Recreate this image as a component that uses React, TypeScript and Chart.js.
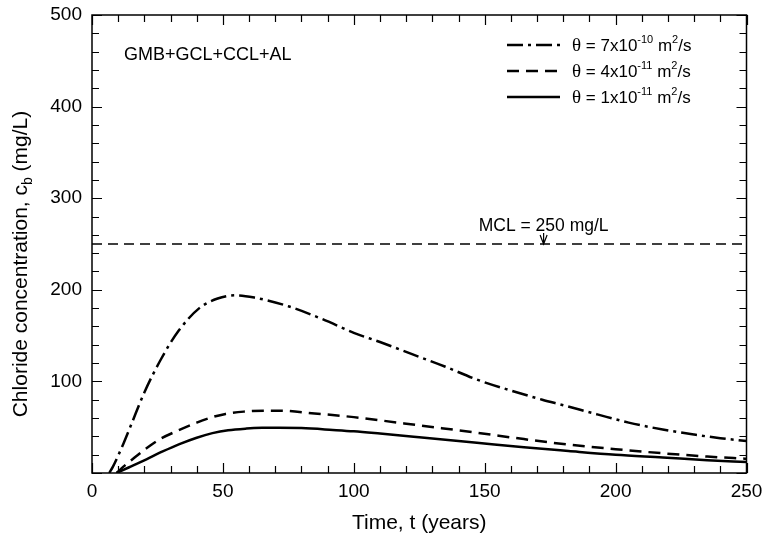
import React, { useEffect, useRef } from 'react';
import { Chart, registerables } from 'chart.js';

Chart.register(...registerables);

const SANS = '"Liberation Sans", Arial, Helvetica, sans-serif';
const SERIF = '"Liberation Serif", "Times New Roman", serif';

// Axis tick labels
const X_TICKS = [0, 50, 100, 150, 200, 250];
const Y_TICKS = [100, 200, 300, 400, 500];

// theta = 7x10^-10 m2/s (dash-dot)
const timeA = [6.6, 8, 10, 12, 15, 20, 26.5, 33, 41, 48, 55, 62, 75, 88, 100, 110, 122, 135, 147, 160, 172, 180, 193, 205, 218, 230, 240, 250];
const concA = [0, 7, 19, 32, 53, 88, 125, 155, 180, 190.5, 194, 191.5, 182, 168, 153, 143, 130, 116, 102, 90, 80, 74, 64, 55, 47.5, 42, 38, 35];

// theta = 4x10^-11 m2/s (dashed)
const timeB = [9.4, 12, 15, 20.8, 26, 33.4, 40, 46, 51, 58, 66, 72, 85, 100, 110, 125, 147, 165, 182, 200, 218, 235, 250];
const concB = [0, 7, 14, 27, 37, 47, 55, 61, 64.5, 67, 68, 68, 65, 61, 57.5, 52, 44, 37, 31, 26, 21.5, 18, 15.5];

// theta = 1x10^-11 m2/s (solid)
const timeC = [9.4, 14, 20.8, 27, 33.4, 40, 46, 52, 59, 65, 71.4, 80, 92, 100, 110, 125, 147, 165, 182, 200, 218, 235, 250];
const concC = [0, 6, 15, 23.5, 31.5, 38.5, 43.5, 46.7, 48.5, 49.3, 49.5, 49, 47, 45.5, 43, 39, 33, 28, 24, 20, 17, 14, 12];

// MCL line
const mclTime = [0, 250];
const mclConc = [250, 250];
const MCL_ARROW_T = 172.5;

const legendEntries = [
  { base: '7x10', exp: '-10', dash: [16, 5, 3, 5] },
  { base: '4x10', exp: '-11', dash: [12, 7] },
  { base: '1x10', exp: '-11', dash: [] as number[] },
];

const toXY = (xs: number[], ys: number[]) => xs.map((x, i) => ({ x, y: ys[i] }));

const overlay = {
  id: 'overlay',
  afterDraw(chart: any) {
    const ctx = chart.ctx as CanvasRenderingContext2D;
    const { left, right, top, bottom } = chart.chartArea;
    const xs = chart.scales.x;
    const ys = chart.scales.y;
    ctx.save();
    ctx.strokeStyle = '#000';
    ctx.fillStyle = '#000';
    ctx.setLineDash([]);

    // frame
    ctx.lineWidth = 1.5;
    ctx.strokeRect(left, top, right - left, bottom - top);

    // x ticks (inward, bottom & top)
    ctx.lineWidth = 1.2;
    for (let t = 0; t <= 250; t += 10) {
      const px = Math.round(xs.getPixelForValue(t)) + 0.5;
      const len = t % 50 === 0 ? 10 : 7;
      ctx.beginPath();
      ctx.moveTo(px, bottom);
      ctx.lineTo(px, bottom - len);
      ctx.moveTo(px, top);
      ctx.lineTo(px, top + len);
      ctx.stroke();
    }
    for (let v = 0; v <= 500; v += 20) {
      const py = Math.round(ys.getPixelForValue(v)) + 0.5;
      const len = v % 100 === 0 ? 10 : 7;
      ctx.beginPath();
      ctx.moveTo(left, py);
      ctx.lineTo(left + len, py);
      ctx.moveTo(right, py);
      ctx.lineTo(right - len, py);
      ctx.stroke();
    }

    // tick labels
    ctx.font = `19px ${SANS}`;
    ctx.textAlign = 'center';
    ctx.textBaseline = 'top';
    X_TICKS.forEach((t) => ctx.fillText(String(t), xs.getPixelForValue(t), bottom + 9));
    ctx.textAlign = 'right';
    ctx.textBaseline = 'middle';
    Y_TICKS.forEach((v) => ctx.fillText(String(v), left - 10, ys.getPixelForValue(v)));

    // axis titles
    ctx.font = `21px ${SANS}`;
    ctx.textAlign = 'center';
    ctx.textBaseline = 'alphabetic';
    ctx.fillText('Time, t (years)', (left + right) / 2, 529);

    // y title with subscript
    ctx.save();
    ctx.translate(27, (top + bottom) / 2 + 20);
    ctx.rotate(-Math.PI / 2);
    const p1 = 'Chloride concentration, c';
    const sub = 'b';
    const p2 = ' (mg/L)';
    ctx.font = `21px ${SANS}`;
    const w1 = ctx.measureText(p1).width;
    const w2 = ctx.measureText(p2).width;
    ctx.font = `14px ${SANS}`;
    const ws = ctx.measureText(sub).width;
    const total = w1 + ws + w2;
    let cx = -total / 2;
    ctx.textAlign = 'left';
    ctx.font = `21px ${SANS}`;
    ctx.fillText(p1, cx, 0);
    cx += w1;
    ctx.font = `14px ${SANS}`;
    ctx.fillText(sub, cx, 5);
    cx += ws;
    ctx.font = `21px ${SANS}`;
    ctx.fillText(p2, cx, 0);
    ctx.restore();

    // label in upper-left
    ctx.font = `18px ${SANS}`;
    ctx.textAlign = 'left';
    ctx.textBaseline = 'middle';
    ctx.fillText('GMB+GCL+CCL+AL', left + 32, top + 40);

    // MCL annotation
    const ax = xs.getPixelForValue(MCL_ARROW_T);
    const ay = ys.getPixelForValue(250);
    ctx.font = `17.5px ${SANS}`;
    ctx.textAlign = 'center';
    ctx.textBaseline = 'alphabetic';
    ctx.fillText('MCL = 250 mg/L', ax, ay - 13);
    ctx.lineWidth = 1.2;
    ctx.beginPath();
    ctx.moveTo(ax, ay - 11);
    ctx.lineTo(ax, ay);
    ctx.moveTo(ax - 3.5, ay - 9);
    ctx.lineTo(ax, ay);
    ctx.lineTo(ax + 3.5, ay - 9);
    ctx.stroke();

    // legend
    const lx0 = right - 239.5;
    const lx1 = right - 186.5;
    const tx = right - 174.5;
    legendEntries.forEach((e, i) => {
      const y = top + 30 + i * 26;
      ctx.setLineDash(e.dash);
      ctx.lineWidth = 2.5;
      ctx.beginPath();
      ctx.moveTo(lx0, y);
      ctx.lineTo(lx1, y);
      ctx.stroke();
      ctx.setLineDash([]);
      ctx.textAlign = 'left';
      ctx.textBaseline = 'alphabetic';
      let x = tx;
      const base = y + 6;
      ctx.font = `19px ${SERIF}`;
      ctx.fillText('\u03b8', x, base);
      x += ctx.measureText('\u03b8').width;
      ctx.font = `17px ${SANS}`;
      const s1 = ' = ' + e.base;
      ctx.fillText(s1, x, base);
      x += ctx.measureText(s1).width;
      ctx.font = `11px ${SANS}`;
      ctx.fillText(e.exp, x, base - 8);
      x += ctx.measureText(e.exp).width;
      ctx.font = `17px ${SANS}`;
      ctx.fillText(' m', x, base);
      x += ctx.measureText(' m').width;
      ctx.font = `11px ${SANS}`;
      ctx.fillText('2', x, base - 8);
      x += ctx.measureText('2').width;
      ctx.font = `17px ${SANS}`;
      ctx.fillText('/s', x, base);
    });

    ctx.restore();
  },
};

export default function App() {
  const ref = useRef<HTMLCanvasElement | null>(null);
  useEffect(() => {
    if (!ref.current) return;
    const lineDs = (data: any, dash: number[], width: number) => ({
      data,
      borderColor: '#000',
      backgroundColor: '#000',
      borderWidth: width,
      borderDash: dash,
      pointRadius: 0,
      fill: false,
      cubicInterpolationMode: 'monotone' as const,
      tension: 0.4,
    });
    const chart = new Chart(ref.current, {
      type: 'line',
      data: {
        datasets: [
          { label: 'MCL', ...lineDs(toXY(mclTime, mclConc), [10, 6], 1.3), cubicInterpolationMode: 'default' as const, tension: 0 },
          { label: 'theta = 7x10^-10', ...lineDs(toXY(timeA, concA), [16, 5, 3, 5], 2.5) },
          { label: 'theta = 4x10^-11', ...lineDs(toXY(timeB, concB), [12, 7], 2.5) },
          { label: 'theta = 1x10^-11', ...lineDs(toXY(timeC, concC), [], 2.5) },
        ],
      },
      options: {
        animation: false,
        responsive: false,
        maintainAspectRatio: false,
        layout: { padding: { top: 15, right: 16.5, left: 0, bottom: 0 } },
        plugins: { legend: { display: false }, tooltip: { enabled: false } },
        scales: {
          x: {
            type: 'linear',
            min: 0,
            max: 250,
            afterFit: (s: any) => { s.height = 73; },
            grid: { display: false, drawTicks: false },
            border: { display: false },
            ticks: { display: false },
          },
          y: {
            type: 'linear',
            min: 0,
            max: 500,
            afterFit: (s: any) => { s.width = 92; },
            grid: { display: false, drawTicks: false },
            border: { display: false },
            ticks: { display: false },
          },
        },
      },
      plugins: [overlay],
    });
    return () => chart.destroy();
  }, []);
  return (
    <div style={{ position: 'absolute', left: 0, top: 0, width: 763, height: 546, background: '#fff' }}>
      <canvas ref={ref} width={763} height={546} style={{ display: 'block' }} />
    </div>
  );
}
